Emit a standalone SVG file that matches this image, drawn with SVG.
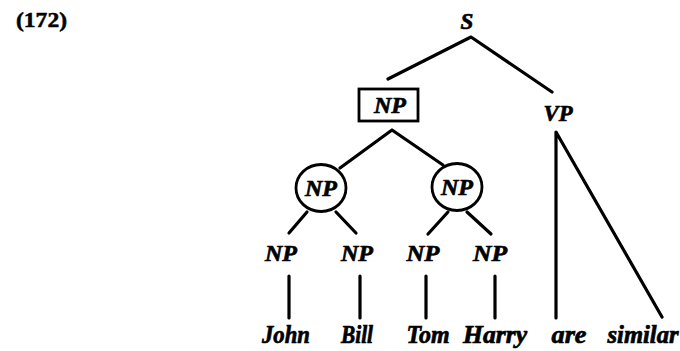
<svg xmlns="http://www.w3.org/2000/svg" width="680" height="351" viewBox="0 0 680 351">
  <style>
    .lbl { font-family: "Liberation Serif", "Times New Roman", serif; font-weight: bold; font-style: italic; font-size: 23px; fill: #000; stroke: #000; stroke-width: 0.7; text-anchor: middle; }
    .word { font-family: "Liberation Serif", "Times New Roman", serif; font-weight: bold; font-style: italic; font-size: 25px; fill: #000; stroke: #000; stroke-width: 0.7; text-anchor: middle; }
    .num { font-family: "Liberation Serif", "Times New Roman", serif; font-weight: bold; font-size: 21px; fill: #000; stroke: #000; stroke-width: 0.5; }
    .edge { stroke: #000; stroke-width: 3.2; fill: none; stroke-linecap: round; stroke-linejoin: round; }
    .frame { stroke: #000; stroke-width: 2.8; fill: #fff; }
  </style>
  <rect width="680" height="351" fill="#fff"/>

  <text class="num" x="16" y="27" textLength="51" lengthAdjust="spacingAndGlyphs">(172)</text>

  <!-- branches -->
  <g id="connectors">
    <polyline class="edge" points="388,79 471,37 552,92"/>
    <polyline class="edge" points="340,168 392,130 443,165"/>
    <line class="edge" x1="307" y1="212" x2="289" y2="233"/>
    <line class="edge" x1="336" y1="212" x2="356" y2="233"/>
    <line class="edge" x1="448" y1="212" x2="428" y2="234"/>
    <line class="edge" x1="467" y1="212" x2="491" y2="234"/>
    <line class="edge" x1="289" y1="276" x2="289" y2="318"/>
    <line class="edge" x1="360" y1="276" x2="360" y2="318"/>
    <line class="edge" x1="426" y1="276" x2="426" y2="318"/>
    <line class="edge" x1="495" y1="276" x2="495" y2="318"/>
    <polyline class="edge" points="556,318 556,132 662,317"/>
  </g>

  <g id="s"><text class="lbl" x="467" y="29">S</text></g>
  <g id="np-subject">
    <rect class="frame" x="359" y="89" width="59" height="32"/>
    <text class="lbl" x="390" y="113" textLength="32" lengthAdjust="spacingAndGlyphs">NP</text>
  </g>
  <g id="vp"><text class="lbl" x="558" y="121" textLength="29" lengthAdjust="spacingAndGlyphs">VP</text></g>

  <g id="np-left">
    <ellipse class="frame" cx="321" cy="188" rx="25" ry="23.5"/>
    <text class="lbl" x="321" y="196" textLength="32" lengthAdjust="spacingAndGlyphs">NP</text>
  </g>
  <g id="np-right">
    <ellipse class="frame" cx="457" cy="187" rx="25" ry="23.5"/>
    <text class="lbl" x="457" y="195" textLength="32" lengthAdjust="spacingAndGlyphs">NP</text>
  </g>

  <g id="np-john"><text class="lbl" x="281" y="261" textLength="32" lengthAdjust="spacingAndGlyphs">NP</text></g>
  <g id="np-bill"><text class="lbl" x="357" y="261" textLength="32" lengthAdjust="spacingAndGlyphs">NP</text></g>
  <g id="np-tom"><text class="lbl" x="423" y="261" textLength="33" lengthAdjust="spacingAndGlyphs">NP</text></g>
  <g id="np-harry"><text class="lbl" x="490" y="261" textLength="34" lengthAdjust="spacingAndGlyphs">NP</text></g>

  <g id="w-john"><text class="word" x="286" y="343" textLength="48" lengthAdjust="spacingAndGlyphs">John</text></g>
  <g id="w-bill"><text class="word" x="357" y="343" textLength="32" lengthAdjust="spacingAndGlyphs">Bill</text></g>
  <g id="w-tom"><text class="word" x="428" y="343" textLength="43" lengthAdjust="spacingAndGlyphs">Tom</text></g>
  <g id="w-harry"><text class="word" x="495" y="343" textLength="64" lengthAdjust="spacingAndGlyphs">Harry</text></g>
  <g id="w-are"><text class="word" x="569" y="343" textLength="35" lengthAdjust="spacingAndGlyphs">are</text></g>
  <g id="w-similar"><text class="word" x="643" y="343" textLength="71" lengthAdjust="spacingAndGlyphs">similar</text></g>
</svg>
